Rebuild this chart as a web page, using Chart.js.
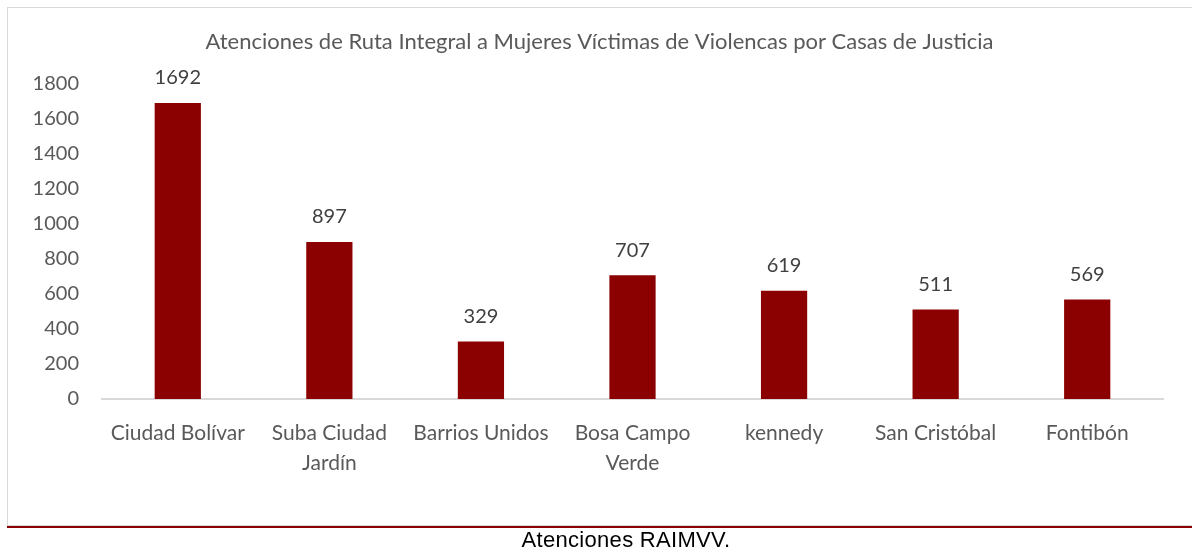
<!DOCTYPE html>
<html>
<head>
<meta charset="utf-8">
<script src="https://cdn.jsdelivr.net/npm/chart.js@4"></script>
<style>
  body { margin: 0; background: #fff; }
  #wrap { position: relative; width: 1192px; height: 552px; overflow: hidden; }
  #box { position: absolute; left: 7px; top: 7px; width: 1200px; height: 517px; border: 1px solid #d9d9d9; border-right: none; }
  #redline { position: absolute; left: 7px; top: 526px; width: 1200px; height: 0; border-top: 2px solid #8b0000; }
  #caption { position: absolute; left: 0; width: 1252px; top: 527px; text-align: center; font-family: "Liberation Sans", Arial, sans-serif; font-size: 22px; letter-spacing: 0.3px; color: #000; }
  canvas { position: absolute; left: 0; top: 0; }
</style>
</head>
<body>
<div id="wrap">
  <div id="box"></div>
  <div id="redline"></div>
  <canvas id="barChart" width="1192" height="552"></canvas>
  <div id="caption">Atenciones RAIMVV.</div>
</div>
<script>
let ctx = document.getElementById('barChart').getContext('2d');
let labels = ['Ciudad Bolívar', ['Suba Ciudad', 'Jardín'], 'Barrios Unidos', ['Bosa Campo', 'Verde'], 'kennedy', 'San Cristóbal', 'Fontibón'];
let values = [1692, 897, 329, 707, 619, 511, 569];
let yTicks = [0, 200, 400, 600, 800, 1000, 1200, 1400, 1600, 1800];
let barColor = '#8b0000';
let textColor = '#595959';

// value labels above bars (no datalabels plugin available offline)
const valueLabels = {
  id: 'valueLabels',
  afterDatasetsDraw: (chart) => {
    let c = chart.ctx;
    let meta = chart.getDatasetMeta(0);
    c.save();
    c.font = '20px Lato';
    c.fillStyle = '#404040';
    c.textAlign = 'center';
    c.textBaseline = 'bottom';
    meta.data.forEach((bar, i) => {
      c.fillText(values[i], bar.x, bar.y - 15);
    });
    c.restore();
  }
};

const barChart = new Chart(ctx,
  {
    type: 'bar',
    data:
    {
      labels: labels,
      datasets:
        [{
          data: values,
          backgroundColor: barColor,
          categoryPercentage: 1,
          barPercentage: 0.305
        }]
    },
    options:
    {
      responsive: false,
      animation: false,
      layout:
      {
        padding: { left: 7, right: 0, top: 0, bottom: 53 }
      },
      plugins:
      {
        legend: { display: false },
        tooltip: { enabled: false },
        title:
        {
          display: true,
          text: 'Atenciones de Ruta Integral a Mujeres Víctimas de Violencas por Casas de Justicia',
          color: textColor,
          font: { family: 'Lato', size: 22, weight: 'normal' },
          padding: { top: 29, bottom: 28.6 }
        }
      },
      scales:
      {
        x:
        {
          grid: { display: false, drawTicks: false },
          border: { color: '#d9d9d9', width: 2 },
          ticks:
          {
            color: textColor,
            font: { family: 'Lato', size: 21, lineHeight: 1.43 },
            padding: 19,
            maxRotation: 0,
            autoSkip: false
          },
          afterFit: (scale) => { scale.height = 100; }
        },
        y:
        {
          min: 0,
          max: 1800,
          afterBuildTicks: (scale) => { scale.ticks = yTicks.map(v => ({ value: v })); },
          grid: { display: false, drawTicks: false },
          border: { display: false },
          ticks:
          {
            color: textColor,
            font: { family: 'Lato', size: 20 },
            padding: 23,
            callback: (value) => String(value)
          },
          afterFit: (scale) => { scale.width = 95; }
        },
        yRight:
        {
          position: 'right',
          display: true,
          grid: { display: false, drawTicks: false },
          border: { display: false },
          ticks: { display: false },
          afterFit: (scale) => { scale.width = 29; }
        }
      }
    },
    plugins: [valueLabels]
  })
</script>
</body>
</html>
